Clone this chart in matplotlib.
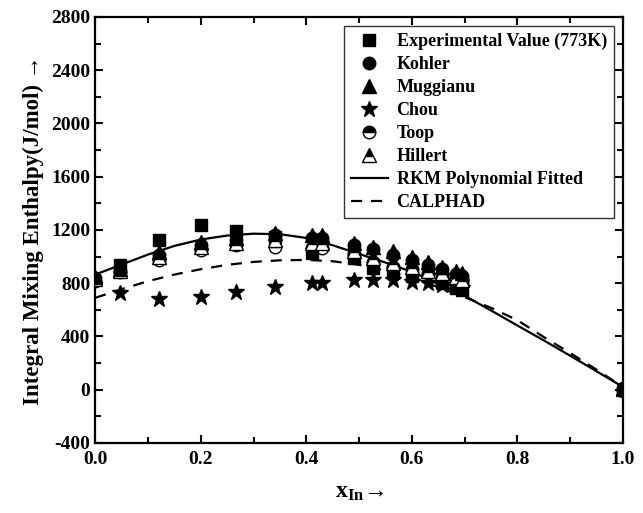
import matplotlib.pyplot as plt
from matplotlib.ticker import MultipleLocator

plt.rcParams['font.family'] = ['Liberation Serif', 'DejaVu Serif']
plt.rcParams['font.weight'] = 'bold'
plt.rcParams['axes.unicode_minus'] = False
plt.rcParams['mathtext.fontset'] = 'custom'
plt.rcParams['mathtext.rm'] = 'Liberation Serif'
plt.rcParams['mathtext.bf'] = 'Liberation Serif:bold'

# experimental data (773K)
x_exp = [0.047, 0.12, 0.2, 0.267, 0.34, 0.41, 0.49, 0.527, 0.565, 0.6, 0.657, 0.683, 0.695]
h_exp = [935, 1125, 1237, 1195, 1150, 1030, 990, 915, 890, 855, 800, 765, 750]

# model calculations
x_calc = [0.0, 0.047, 0.12, 0.2, 0.267, 0.34, 0.41, 0.43, 0.49, 0.527, 0.565, 0.6, 0.63, 0.657, 0.683, 0.695, 1.0]
h_kohler = [840, 895, 1015, 1090, 1125, 1160, 1140, 1140, 1085, 1055, 1015, 975, 940, 905, 870, 855, 15]
h_muggianu = [845, 905, 1035, 1110, 1140, 1175, 1160, 1160, 1105, 1075, 1040, 995, 960, 925, 888, 875, 15]
h_toop = [815, 885, 975, 1050, 1085, 1075, 1065, 1065, 1020, 960, 920, 910, 880, 870, 840, 810, -10]
h_hillert = [830, 890, 1000, 1070, 1100, 1125, 1100, 1100, 1040, 990, 950, 925, 895, 880, 850, 825, 5]

x_chou = [0.047, 0.12, 0.2, 0.267, 0.34, 0.41, 0.43, 0.49, 0.527, 0.565, 0.6, 0.63, 0.657, 0.683, 0.695]
h_chou = [730, 680, 695, 735, 770, 800, 805, 825, 825, 825, 810, 800, 790, 775, 765]

# fitted curves
x_curve = [0.0, 0.05, 0.1, 0.15, 0.2, 0.25, 0.3, 0.35, 0.4, 0.45, 0.5,
           0.55, 0.6, 0.65, 0.7, 0.75, 0.8, 0.85, 0.9, 0.95, 1.0]
h_rkm = [865, 940, 1015, 1080, 1128, 1158, 1172, 1168, 1140, 1085, 1020,
         955, 885, 800, 705, 595, 482, 370, 255, 138, 20]
h_calphad = [690, 755, 815, 865, 905, 938, 960, 972, 975, 965, 938,
             895, 840, 770, 695, 615, 522, 395, 275, 150, 20]

fig = plt.figure(figsize=(6.43, 5.13), dpi=100)
ax = fig.add_axes([0.148, 0.1365, 0.821, 0.8305])

ax.plot(x_exp, h_exp, 's', color='black', ms=9, ls='none', label='Experimental Value (773K)', zorder=4)
ax.plot(x_calc, h_kohler, 'o', color='black', ms=9, ls='none', label='Kohler', zorder=3)
ax.plot(x_calc, h_muggianu, '^', color='black', ms=10.5, ls='none', label='Muggianu', zorder=5)
ax.plot(x_chou, h_chou, '*', color='black', ms=12, ls='none', label='Chou', zorder=3)
ax.plot(x_calc, h_toop, 'o', mfc='black', mfcalt='white', mec='black', fillstyle='top',
        ms=9, ls='none', label='Toop', zorder=3)
ax.plot(x_calc, h_hillert, '^', mfc='black', mfcalt='white', mec='black', fillstyle='top',
        ms=10.5, ls='none', label='Hillert', zorder=4)
ax.plot(x_curve, h_rkm, '-', color='black', lw=1.6, label='RKM Polynomial Fitted', zorder=2)
ax.plot(x_curve, h_calphad, color='black', lw=1.6, ls=(0, (5, 4)), label='CALPHAD', zorder=2)

ax.set_xlim(0, 1.0)
ax.set_ylim(-400, 2800)
ax.xaxis.set_major_locator(MultipleLocator(0.2))
ax.xaxis.set_minor_locator(MultipleLocator(0.1))
ax.yaxis.set_major_locator(MultipleLocator(400))
ax.yaxis.set_minor_locator(MultipleLocator(200))
ax.set_xticklabels([f'{v:.1f}' for v in ax.get_xticks()])
ax.tick_params(which='both', direction='in', top=True, right=True, width=1.5, labelsize=14)
ax.tick_params(which='major', length=6)
ax.tick_params(which='minor', length=4)
ax.tick_params(axis='x', pad=6)
for s in ax.spines.values():
    s.set_linewidth(1.6)

ax.set_ylabel('Integral Mixing Enthalpy(J/mol) \u2192', fontsize=16.5, fontweight='bold', labelpad=5)
ax.set_xlabel(r'$\mathbf{x_{In}}$' + '\u2192', fontsize=17, fontweight='bold', labelpad=10)

leg = ax.legend(loc='upper right', fontsize=13, frameon=True, fancybox=False,
                edgecolor='black', handlelength=2.0, handletextpad=0.5, labelspacing=0.33,
                borderaxespad=0.5, borderpad=0.4)
leg.get_frame().set_linewidth(1.0)

fig.savefig('out.png', dpi=100)
